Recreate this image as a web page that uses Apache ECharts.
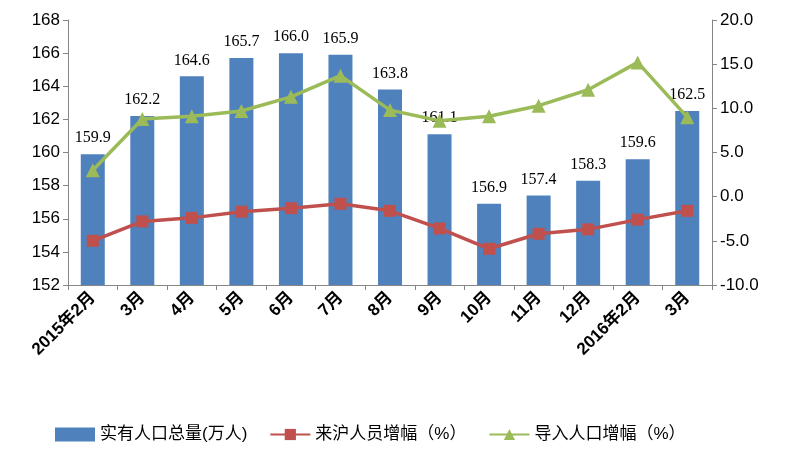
<!DOCTYPE html>
<html lang="zh">
<head>
    <meta charset="UTF-8">
    <title>人口</title>
    <script src="https://cdn.jsdelivr.net/npm/echarts@6/dist/echarts.min.js"></script>
</head>
<body style="margin:0">
    <div id="main" style="width:805px;height:462px;"></div>
    <script>
        var months = ['2015年2月', '3月', '4月', '5月', '6月', '7月', '8月', '9月', '10月', '11月', '12月', '2016年2月', '3月'];
        var population = [159.9, 162.2, 164.6, 165.7, 166.0, 165.9, 163.8, 161.1, 156.9, 157.4, 158.3, 159.6, 162.5];
        var migrantGrowth = [-5.0, -2.8, -2.4, -1.7, -1.3, -0.8, -1.6, -3.6, -5.9, -4.2, -3.7, -2.6, -1.6];
        var importedGrowth = [3.0, 8.8, 9.1, 9.7, 11.3, 13.7, 9.8, 8.6, 9.1, 10.3, 12.1, 15.2, 9.0];

        var font = 'Liberation Sans, Noto Sans CJK SC';
        var chart = echarts.init(document.getElementById('main'));
        chart.setOption({
            animation: false,
            textStyle: { fontFamily: font },
            grid: { left: 68, right: 93, top: 20, bottom: 177 },
            legend: {
                bottom: 14,
                left: 50,
                itemGap: 22,
                itemWidth: 40,
                textStyle: { fontSize: 17, color: '#000' },
                data: [
                    { name: '实有人口总量(万人)', icon: 'rect' },
                    { name: '来沪人员增幅（%）' },
                    { name: '导入人口增幅（%）' }
                ]
            },
            xAxis: {
                type: 'category',
                data: months,
                axisLine: { onZero: false, lineStyle: { color: '#868686' } },
                axisTick: { show: true, lineStyle: { color: '#868686' } },
                axisLabel: { rotate: 45, interval: 0, fontSize: 17, color: '#000', fontWeight: 'bold', margin: 10 }
            },
            yAxis: [{
                type: 'value', min: 152, max: 168, interval: 2,
                splitLine: { show: false },
                axisLine: { show: true, lineStyle: { color: '#868686' } },
                axisTick: { show: true },
                axisLabel: { fontSize: 17, color: '#000' }
            }, {
                type: 'value', min: -10, max: 20, interval: 5,
                splitLine: { show: false },
                axisLine: { show: true, lineStyle: { color: '#868686' } },
                axisTick: { show: true },
                axisLabel: { fontSize: 17, color: '#000', formatter: function (v) { return v.toFixed(1); } }
            }],
            series: [{
                name: '实有人口总量(万人)',
                type: 'bar',
                data: population,
                barWidth: 24,
                itemStyle: { color: '#4F81BD' },
                label: { show: true, position: 'top', fontSize: 16, fontFamily: 'Liberation Serif', color: '#000', distance: 8, formatter: function (p) { return p.value.toFixed(1); } }
            }, {
                name: '来沪人员增幅（%）',
                type: 'line',
                yAxisIndex: 1,
                data: migrantGrowth,
                symbol: 'rect',
                symbolSize: 12,
                lineStyle: { color: '#C0504D', width: 3.5 },
                itemStyle: { color: '#C0504D' }
            }, {
                name: '导入人口增幅（%）',
                type: 'line',
                yAxisIndex: 1,
                data: importedGrowth,
                symbol: 'triangle',
                symbolSize: 14,
                lineStyle: { color: '#9BBB59', width: 3.5 },
                itemStyle: { color: '#9BBB59' }
            }]
        });
    </script>
</body>
</html>
